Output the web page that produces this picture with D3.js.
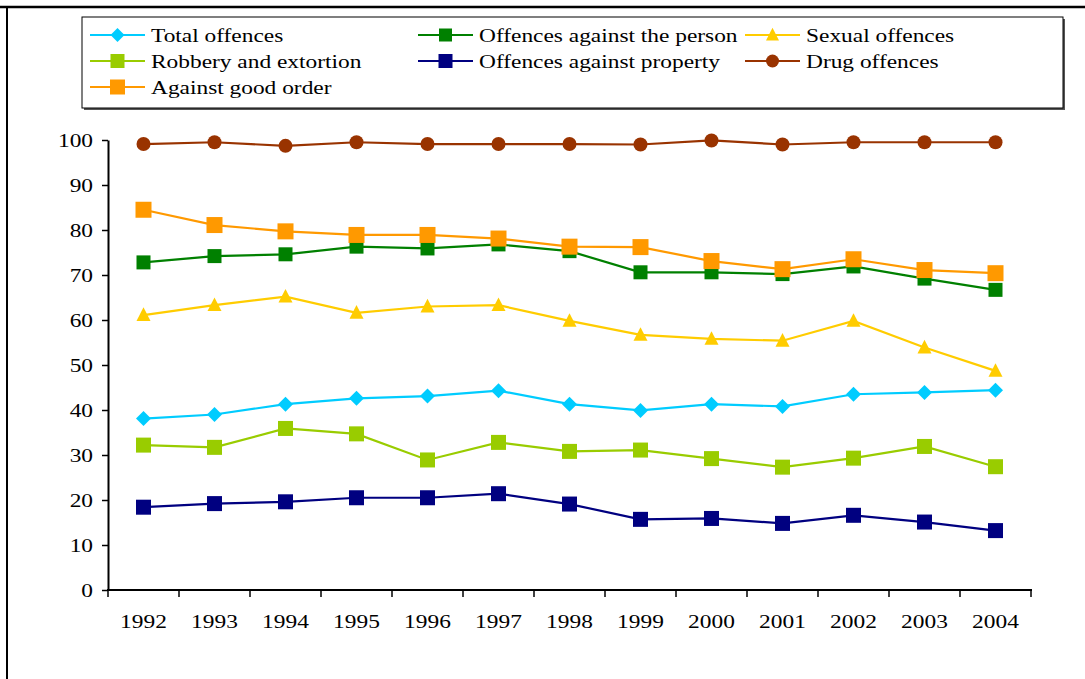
<!DOCTYPE html>
<html>
<head>
<meta charset="utf-8">
<script src="https://cdn.jsdelivr.net/npm/d3@7"></script>
<style>
  html, body { margin: 0; padding: 0; background: #fff; }
  svg { display: block; }
  text { font-family: "Liberation Serif", "Times New Roman", serif; fill: #000; }
</style>
</head>
<body>
<svg id="chart" width="1085" height="679"></svg>
<script>
const years = ["1992","1993","1994","1995","1996","1997","1998","1999","2000","2001","2002","2003","2004"];
const yTicks = [0,10,20,30,40,50,60,70,80,90,100];

const seriesNames = ["Total offences","Offences against the person","Sexual offences","Robbery and extortion","Offences against property","Drug offences","Against good order"];

const totalOffences   = [38.1, 39.0, 41.3, 42.6, 43.1, 44.3, 41.3, 39.9, 41.3, 40.8, 43.5, 43.9, 44.4];
const againstPerson   = [72.8, 74.2, 74.6, 76.3, 75.9, 76.8, 75.3, 70.6, 70.6, 70.2, 71.9, 69.2, 66.7];
const sexualOffences  = [61.1, 63.3, 65.2, 61.6, 63.0, 63.3, 59.8, 56.7, 55.8, 55.4, 59.8, 53.9, 48.7];
const robbery         = [32.2, 31.7, 35.9, 34.7, 28.9, 32.8, 30.8, 31.1, 29.2, 27.3, 29.3, 31.9, 27.4];
const againstProperty = [18.4, 19.2, 19.6, 20.5, 20.5, 21.4, 19.1, 15.7, 15.9, 14.8, 16.6, 15.1, 13.2];
const drugOffences    = [99.1, 99.5, 98.7, 99.5, 99.1, 99.1, 99.1, 99.0, 99.9, 99.0, 99.5, 99.5, 99.5];
const goodOrder       = [84.5, 81.1, 79.7, 78.9, 78.9, 78.1, 76.3, 76.2, 73.1, 71.3, 73.5, 71.1, 70.4];

const seriesValues = [totalOffences, againstPerson, sexualOffences, robbery, againstProperty, drugOffences, goodOrder];
const colors = ["#00CCFF","#008000","#FFCC00","#99CC00","#000080","#993300","#FF9900"];
const shapes = ["diamond","square","triangle","square","square","circle","square"];
const markerSizes = [15, 14, 14, 15, 15, 14, 16];

const svg = d3.select("#chart");
const SX = 1.2; // horizontal text stretch
const FONT = "'Liberation Serif', 'Times New Roman', serif";

// Frame lines
svg.append("line").attr("x1",0).attr("x2",1085).attr("y1",7).attr("y2",7).attr("stroke","#000").attr("stroke-width",2.5);
svg.append("line").attr("x1",7).attr("x2",7).attr("y1",7).attr("y2",679).attr("stroke","#000").attr("stroke-width",2);

const x = d3.scaleBand().domain(years).range([108, 1031]).padding(0);
const y = d3.scaleLinear().domain([0,100]).range([590,140]);
const cx = d => x(d) + x.bandwidth()/2;

// Y axis
const yAxis = svg.append("g").attr("transform","translate(108,0)")
  .call(d3.axisLeft(y).tickValues(yTicks).tickSize(6).tickSizeOuter(0).tickPadding(6.5))
  .attr("font-family", FONT);
yAxis.select(".domain").attr("stroke","#000").attr("stroke-width",2);
yAxis.selectAll(".tick line").attr("stroke","#000").attr("stroke-width",1.5);
yAxis.selectAll(".tick text").style("font-size","19.5px").style("font-family",FONT).attr("transform",`scale(${SX},1)`);

// X axis labels
const xAxis = svg.append("g").attr("transform","translate(0,590)")
  .call(d3.axisBottom(x).tickSize(0).tickSizeOuter(0).tickPadding(24))
  .attr("font-family", FONT);
xAxis.select(".domain").remove();
xAxis.selectAll(".tick text").style("font-size","19.5px").style("font-family",FONT).attr("transform",`scale(${SX},1)`);
// X axis line and boundary ticks
const bounds = years.map(d => x(d)).concat([x.range()[1]]);
svg.append("line").attr("x1",107).attr("x2",1032).attr("y1",590).attr("y2",590).attr("stroke","#000").attr("stroke-width",2);
svg.append("g").selectAll("line").data(bounds).join("line")
  .attr("x1",d=>d).attr("x2",d=>d).attr("y1",590).attr("y2",597)
  .attr("stroke","#000").attr("stroke-width",1.5);

function drawMarker(g, shape, color, px, py, s) {
  if (shape === "square") {
    g.append("rect").attr("x",px-s/2).attr("y",py-s/2).attr("width",s).attr("height",s).attr("fill",color);
  } else if (shape === "circle") {
    g.append("circle").attr("cx",px).attr("cy",py).attr("r",s/2).attr("fill",color);
  } else if (shape === "diamond") {
    const h = s/2;
    g.append("path").attr("d",`M${px},${py-h}L${px+h},${py}L${px},${py+h}L${px-h},${py}Z`).attr("fill",color);
  } else if (shape === "triangle") {
    const h = s/2;
    g.append("path").attr("d",`M${px},${py-h*1.1}L${px+h},${py+h*0.85}L${px-h},${py+h*0.85}Z`).attr("fill",color);
  }
}

const line = d3.line().x((d,i)=>cx(years[i])).y(d=>y(d));
seriesValues.forEach((vals, si) => {
  const g = svg.append("g");
  g.append("path").datum(vals).attr("d",line).attr("fill","none")
    .attr("stroke",colors[si]).attr("stroke-width",2.2);
  vals.forEach((v,i) => drawMarker(g, shapes[si], colors[si], cx(years[i]), y(v), markerSizes[si]));
});

// Legend
const lg = svg.append("g");
lg.append("rect").attr("x",84).attr("y",19).attr("width",981).attr("height",91).attr("fill","#555");
lg.append("rect").attr("x",82).attr("y",17).attr("width",981).attr("height",91).attr("fill","#fff").attr("stroke","#000").attr("stroke-width",1);
const colX = [90, 418, 745];
const rowY = [35, 61, 87];
seriesNames.forEach((name, i) => {
  const lx = colX[i % 3], ly = rowY[Math.floor(i / 3)];
  lg.append("line").attr("x1",lx).attr("x2",lx+55).attr("y1",ly).attr("y2",ly).attr("stroke",colors[i]).attr("stroke-width",2);
  drawMarker(lg, shapes[i], colors[i], lx+27.5, ly, markerSizes[i]-1);
  lg.append("text").attr("transform",`translate(${lx+61},${ly+6.5}) scale(${SX},1)`)
    .style("font-size","19.5px").style("font-family",FONT).text(name);
});
</script>
</body>
</html>
